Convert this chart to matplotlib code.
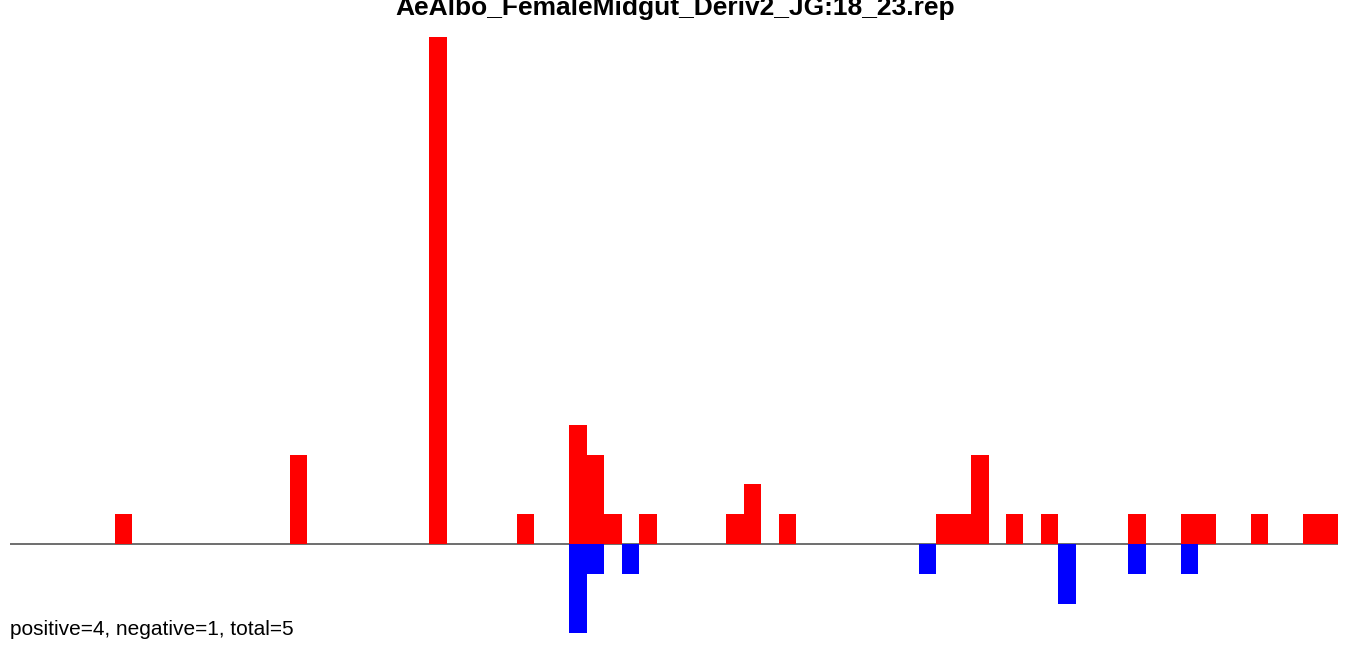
import matplotlib
import matplotlib.pyplot as plt

matplotlib.use('Agg')
plt.rcParams['font.family'] = ['Liberation Sans', 'DejaVu Sans']

title = 'AeAlbo_FemaleMidgut_Deriv2_JG:18_23.rep'
summary = 'positive=4, negative=1, total=5'
n_bins = 76

# bin index -> count (positive strand up, negative strand down)
pos_bins = [6, 16, 24, 29, 32, 33, 34, 36, 41, 42, 44, 53, 54, 55, 57, 59, 64, 67, 68, 71, 74, 75]
pos_counts = [1, 3, 17, 1, 4, 3, 1, 1, 1, 2, 1, 1, 1, 3, 1, 1, 1, 1, 1, 1, 1, 1]
neg_bins = [32, 33, 35, 52, 60, 64, 67]
neg_counts = [3, 1, 1, 1, 2, 1, 1]

fig = plt.figure(figsize=(13.5, 6.45), dpi=100)
ax = fig.add_axes([10 / 1350, (645 - 633.4) / 645, 1328 / 1350, 596 / 645])

ax.axhline(0, color='#555555', linewidth=1.2, zorder=1)
ax.bar(pos_bins, pos_counts, width=1, align='edge', color='#ff0000', linewidth=0, zorder=2)
ax.bar(neg_bins, [-c for c in neg_counts], width=1, align='edge', color='#0000ff', linewidth=0, zorder=2)

ax.set_xlim(0, n_bins)
ax.set_ylim(-3, 17)
ax.axis('off')

fig.text(0.5, 1 - 14.5 / 645, title, ha='center', va='baseline', fontsize=19, fontweight='bold')
fig.text(10 / 1350, 1 - 635 / 645, summary, ha='left', va='baseline', fontsize=15)

fig.savefig('out.png', dpi=100)
